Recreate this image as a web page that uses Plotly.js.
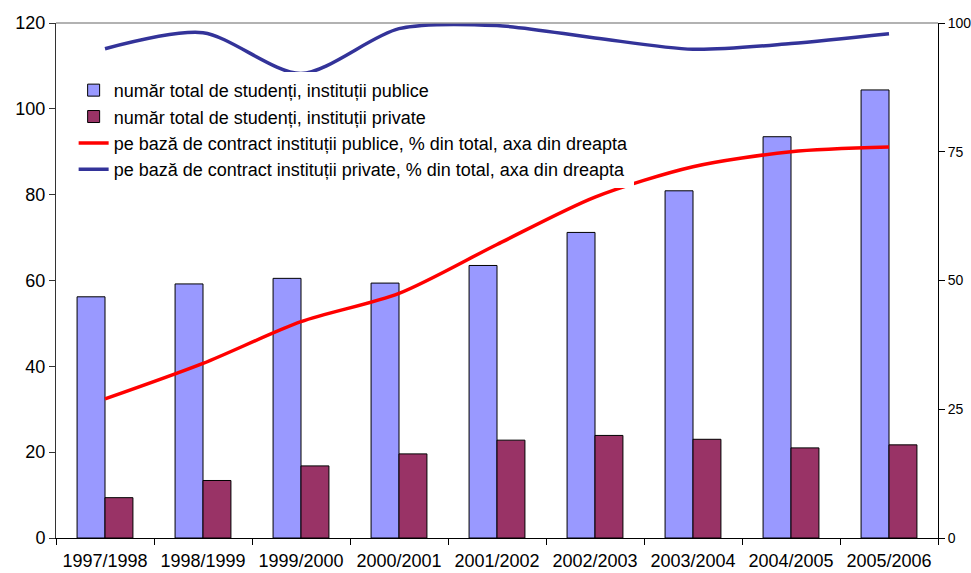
<!DOCTYPE html>
<html>
<head>
<meta charset="utf-8">
<script src="https://cdn.plot.ly/plotly-3.0.1.min.js"></script>
<style>html,body{margin:0;padding:0;background:#fff;}#chart{width:971px;height:573px;}</style>
</head>
<body>
<div id="chart"></div>
<script>
const categories = ["1997/1998","1998/1999","1999/2000","2000/2001","2001/2002","2002/2003","2003/2004","2004/2005","2005/2006"];
const publicTotal = [56.2, 59.2, 60.5, 59.4, 63.5, 71.2, 80.9, 93.5, 104.4];
const privateTotal = [9.4, 13.4, 16.8, 19.6, 22.8, 23.9, 23.0, 21.0, 21.7];
const publicContractPct = [27.0, 33.9, 42.0, 47.5, 57.0, 66.2, 72.1, 75.0, 75.9];
const privateContractPct = [95.0, 98.1, 90.2, 98.9, 99.5, 97.1, 94.9, 96.0, 97.9];
const seriesNames = [
  "număr total de studenți, instituții publice",
  "număr total de studenți, instituții private",
  "pe bază de contract instituții publice, % din total, axa din dreapta",
  "pe bază de contract instituții private, % din total, axa din dreapta"
];

const font = "Liberation Sans, Arial, sans-serif";

const traces = [
  {type:"bar", name:seriesNames[0], x:categories, y:publicTotal,
   marker:{color:"#9999FF", line:{color:"#000", width:1}}},
  {type:"bar", name:seriesNames[1], x:categories, y:privateTotal,
   marker:{color:"#993366", line:{color:"#000", width:1}}},
  {type:"scatter", mode:"lines", name:seriesNames[2], x:categories, y:publicContractPct, yaxis:"y2",
   line:{color:"#FF0000", width:3.5, shape:"spline", smoothing:0.8}},
  {type:"scatter", mode:"lines", name:seriesNames[3], x:categories, y:privateContractPct, yaxis:"y2",
   line:{color:"#333399", width:3.5, shape:"spline", smoothing:0.8}}
];

const layout = {
  width:971, height:573,
  margin:{l:56, r:33, t:23, b:35},
  paper_bgcolor:"#fff", plot_bgcolor:"#fff",
  font:{family:font, size:18, color:"#000"},
  barmode:"group", bargap:0.43, bargroupgap:0,
  showlegend:true,
  legend:{x:0.02, y:0.905, xanchor:"left", yanchor:"top", bgcolor:"#fff",
          font:{family:font, size:18, color:"#000"}, tracegroupgap:0, traceorder:"normal",
          itemwidth:30},
  xaxis:{type:"category", showline:true, linecolor:"#000", linewidth:1,
         ticks:"outside", tickson:"boundaries", ticklen:6, tickcolor:"#000",
         tickfont:{size:18}, ticklabelstandoff:6, showgrid:false, zeroline:false, fixedrange:true},
  yaxis:{range:[0,120], dtick:20, showline:true, linecolor:"#333", linewidth:1,
         ticks:"outside", ticklen:6, tickcolor:"#333", showgrid:false, zeroline:false,
         tickfont:{size:18}},
  yaxis2:{range:[0,100], dtick:25, overlaying:"y", side:"right", showline:true,
          linecolor:"#000", linewidth:1, ticks:"outside", ticklen:6, tickcolor:"#000",
          showgrid:false, zeroline:false, tickfont:{size:14}},
  shapes:[{type:"line", xref:"paper", yref:"paper", x0:0, x1:1, y0:1, y1:1,
           line:{color:"#999", width:1.5}}]
};

Plotly.newPlot("chart", traces, layout, {staticPlot:true, displayModeBar:false});
</script>
</body>
</html>
